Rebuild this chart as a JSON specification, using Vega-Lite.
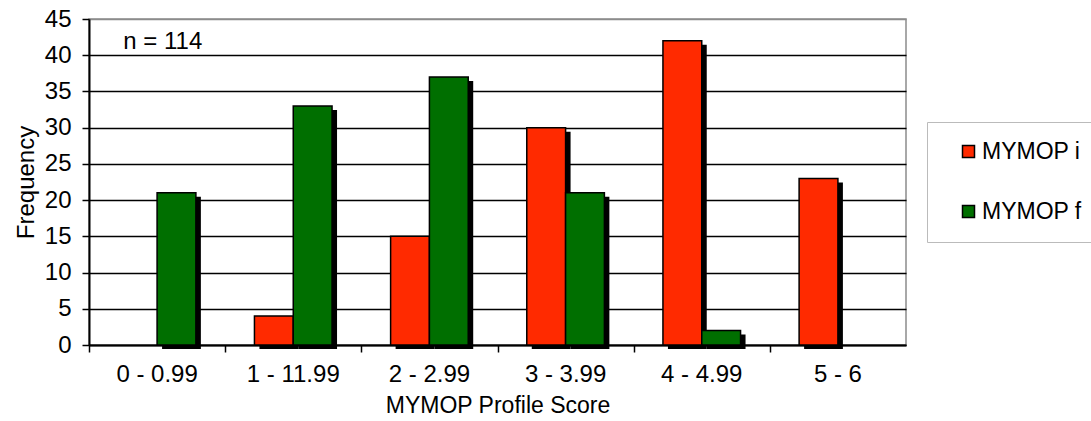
{
  "$schema": "https://vega.github.io/schema/vega-lite/v6.json",
  "autosize": {"type": "none"},
  "width": 817,
  "height": 326,
  "padding": {"left": 89, "top": 19, "right": 185, "bottom": 76},
  "background": "white",
  "config": {
    "font": "Liberation Sans",
    "view": {"stroke": "#8c8c8c", "strokeWidth": 1.5}
  },
  "data": {
    "values": [
      {"score": "0 - 0.99", "series": "MYMOP i", "freq": 0},
      {"score": "0 - 0.99", "series": "MYMOP f", "freq": 21},
      {"score": "1 - 11.99", "series": "MYMOP i", "freq": 4},
      {"score": "1 - 11.99", "series": "MYMOP f", "freq": 33},
      {"score": "2 - 2.99", "series": "MYMOP i", "freq": 15},
      {"score": "2 - 2.99", "series": "MYMOP f", "freq": 37},
      {"score": "3 - 3.99", "series": "MYMOP i", "freq": 30},
      {"score": "3 - 3.99", "series": "MYMOP f", "freq": 21},
      {"score": "4 - 4.99", "series": "MYMOP i", "freq": 42},
      {"score": "4 - 4.99", "series": "MYMOP f", "freq": 2},
      {"score": "5 - 6", "series": "MYMOP i", "freq": 23},
      {"score": "5 - 6", "series": "MYMOP f", "freq": 0}
    ]
  },
  "encoding": {
    "x": {
      "field": "score",
      "type": "nominal",
      "sort": null,
      "scale": {"paddingInner": 0.43, "paddingOuter": 0.215},
      "axis": {
        "title": "MYMOP Profile Score",
        "titleFontSize": 23,
        "titleFontWeight": "normal",
        "titleColor": "black",
        "titlePadding": 8,
        "labelAngle": 0,
        "labelFontSize": 24,
        "labelColor": "black",
        "labelPadding": 10,
        "tickColor": "black",
        "tickSize": 7,
        "tickWidth": 1.5,
        "bandPosition": -0.37,
        "domainColor": "black",
        "domainWidth": 2
      }
    },
    "y": {
      "field": "freq",
      "type": "quantitative",
      "scale": {"domain": [0, 45], "nice": false},
      "axis": {
        "title": "Frequency",
        "titleFontSize": 24,
        "titleFontWeight": "normal",
        "titleColor": "black",
        "titlePadding": 6,
        "values": [0, 5, 10, 15, 20, 25, 30, 35, 40, 45],
        "labelFontSize": 24,
        "labelColor": "black",
        "labelPadding": 11,
        "tickColor": "black",
        "tickSize": 7,
        "tickWidth": 1.5,
        "domainColor": "black",
        "domainWidth": 2,
        "gridColor": {"condition": {"test": "datum.value == 45", "value": "#8c8c8c"}, "value": "black"},
        "gridWidth": 1.3,
        "gridOpacity": 1
      }
    }
  },
  "layer": [
    {
      "transform": [{"filter": "datum.freq > 0"}],
      "mark": {"type": "bar", "color": "black", "yOffset": 4, "y2Offset": 2},
      "encoding": {
        "xOffset": {"field": "series", "type": "nominal", "sort": ["MYMOP i", "MYMOP f"], "scale": {"domain": ["MYMOP i", "MYMOP f"], "range": [5, 82.6]}}
      }
    },
    {
      "mark": {"type": "bar", "stroke": "black", "strokeWidth": 1.5},
      "encoding": {
        "xOffset": {"field": "series", "type": "nominal", "sort": ["MYMOP i", "MYMOP f"], "scale": {"domain": ["MYMOP i", "MYMOP f"]}},
        "strokeOpacity": {"condition": {"test": "datum.freq == 0", "value": 0}, "value": 1},
        "color": {
          "field": "series",
          "type": "nominal",
          "sort": ["MYMOP i", "MYMOP f"],
          "scale": {"domain": ["MYMOP i", "MYMOP f"], "range": ["#ff2a00", "#006f00"]},
          "legend": {
            "title": null,
            "orient": "none",
            "legendX": 838,
            "legendY": 103,
            "padding": 18,
            "strokeColor": "#bbbbbb",
            "fillColor": "white",
            "symbolType": "square",
            "symbolSize": 144,
            "symbolOffset": 12,
            "symbolStrokeColor": "black",
            "symbolStrokeWidth": 1.5,
            "symbolOpacity": 1,
            "labelFontSize": 23,
            "labelColor": "black",
            "labelOffset": 2,
            "rowPadding": 36
          }
        }
      }
    },
    {
      "data": {"values": [{"score": "0 - 0.99", "freq": 41.8, "label": "n = 114"}]},
      "mark": {"type": "text", "align": "left", "baseline": "middle", "fontSize": 24, "color": "black", "dx": 5},
      "encoding": {
        "x": {"field": "score", "type": "nominal", "bandPosition": 0},
        "y": {"field": "freq", "type": "quantitative"},
        "text": {"field": "label"}
      }
    }
  ],
  "resolve": {"scale": {"xOffset": "independent"}}
}
